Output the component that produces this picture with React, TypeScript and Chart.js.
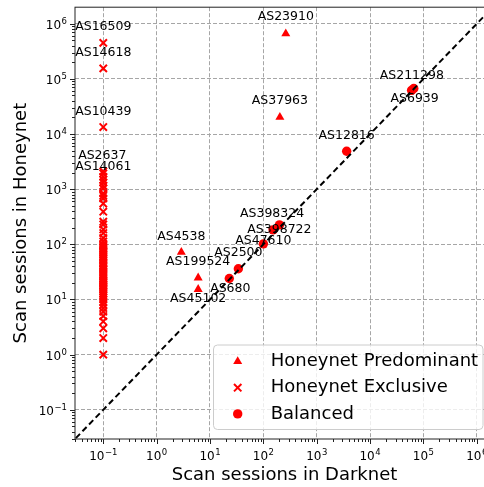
import React, { useEffect, useRef } from 'react';
import { Chart, registerables } from 'chart.js';

Chart.register(...registerables);

// ---------------- data ----------------
const predominantNames = ['AS23910', 'AS37963', 'AS4538', 'AS199524', 'AS45102'];
const predominantDarknet = [263, 204, 2.9, 6, 6];
const predominantHoneynet = [660000, 20300, 72, 24.7, 15.3];

const balancedNames = ['AS680', 'AS2500', 'AS47610', 'AS398324', 'AS398722', 'AS12816', 'AS211298', 'AS6939'];
const balancedDarknet = [23, 34, 100, 152, 200, 3640, 66000, 60000];
const balancedHoneynet = [24, 36, 102, 183, 225, 4880, 67000, 62000];

const exclusiveNames = ['AS16509', 'AS14618', 'AS10439', 'AS2637', 'AS14061'];
const exclusiveHoneynet = [
  450000, 155000, 13400, 2100, 1330, 1930, 1680, 1480, 1150, 1030, 840, 760, 680, 550, 390,
  257, 229, 186, 160, 130, 113, 100, 95, 90, 85, 80, 75, 70, 65, 60, 56, 52, 48, 45, 42, 40,
  37, 35, 32, 30, 28, 26, 24, 22, 21, 20, 19, 18, 17, 16, 15, 14, 13, 12, 11, 10, 9, 8, 7, 6,
  5, 4, 3, 2, 1,
];
// zero darknet sessions are placed at 10^-1
const exclusiveDarknetValue = 0.1;

const legendLabels = ['Honeynet Predominant', 'Honeynet Exclusive', 'Balanced'];
const tickExponents = [-1, 0, 1, 2, 3, 4, 5, 6];
const axisMin = Math.pow(10, -1.53);
const axisMax = Math.pow(10, 6.3);
const diagonalRange = [0.001, 1e8];

const xTitle = 'Scan sessions in Darknet';
const yTitle = 'Scan sessions in Honeynet';

// label placement (pixel offsets of text centre from its point)
const labelOffsets: Record<string, [number, number]> = {
  AS16509: [0, -17],
  AS14618: [0, -17],
  AS10439: [0, -17],
  AS2637: [-1, -17],
  AS14061: [0, -17],
  AS23910: [0, -18],
  AS37963: [0, -18],
  AS4538: [0, -17],
  AS199524: [0, -17],
  AS45102: [0, 8],
  AS680: [1, 9],
  AS2500: [0, -17],
  AS47610: [0, -4],
  AS398324: [-1, -17],
  AS398722: [0, 3],
  AS12816: [0, -17],
  AS211298: [-2, -14],
  AS6939: [3, 7],
};

const FONT = '"DejaVu Sans", sans-serif';
const RED = '#ff0000';

function supText(e: number) {
  return e < 0 ? '\u2212' + String(-e) : String(e);
}

function drawPow(ctx: CanvasRenderingContext2D, e: number, x: number, y: number, align: 'center' | 'right') {
  ctx.textAlign = 'left';
  ctx.textBaseline = 'alphabetic';
  ctx.font = `12px ${FONT}`;
  const w1 = ctx.measureText('10').width;
  ctx.font = `8.5px ${FONT}`;
  const s = supText(e);
  const w2 = ctx.measureText(s).width;
  const w = w1 + w2 + 0.5;
  const start = align === 'center' ? x - w / 2 : x - w;
  ctx.font = `12px ${FONT}`;
  ctx.fillText('10', start, y);
  ctx.font = `8.5px ${FONT}`;
  ctx.fillText(s, start + w1 + 0.5, y - 5);
}

function drawMarker(ctx: CanvasRenderingContext2D, kind: number, x: number, y: number) {
  ctx.save();
  ctx.fillStyle = RED;
  ctx.strokeStyle = RED;
  if (kind === 0) {
    const r = 5.2;
    ctx.beginPath();
    for (let i = 0; i < 3; i++) {
      const a = -Math.PI / 2 + (i * 2 * Math.PI) / 3;
      const px = x + Math.cos(a) * r;
      const py = y + Math.sin(a) * r;
      if (i === 0) ctx.moveTo(px, py);
      else ctx.lineTo(px, py);
    }
    ctx.closePath();
    ctx.fill();
  } else if (kind === 1) {
    const d = 3.7;
    ctx.lineWidth = 2;
    ctx.beginPath();
    ctx.moveTo(x - d, y - d);
    ctx.lineTo(x + d, y + d);
    ctx.moveTo(x - d, y + d);
    ctx.lineTo(x + d, y - d);
    ctx.stroke();
  } else {
    ctx.beginPath();
    ctx.arc(x, y, 4.7, 0, Math.PI * 2);
    ctx.fill();
  }
  ctx.restore();
}

const decorPlugin = {
  id: 'decor',
  afterDatasetsDraw(chart: any) {
    const ctx: CanvasRenderingContext2D = chart.ctx;
    const xs = chart.scales.x;
    const ys = chart.scales.y;
    const a = chart.chartArea;
    ctx.save();

    // annotations
    ctx.fillStyle = '#000';
    ctx.font = `12.5px ${FONT}`;
    ctx.textAlign = 'center';
    ctx.textBaseline = 'alphabetic';
    const ann: { name: string; x: number; y: number }[] = [];
    predominantNames.forEach((n, i) => ann.push({ name: n, x: predominantDarknet[i], y: predominantHoneynet[i] }));
    exclusiveNames.forEach((n, i) => ann.push({ name: n, x: exclusiveDarknetValue, y: exclusiveHoneynet[i] }));
    balancedNames.forEach((n, i) => ann.push({ name: n, x: balancedDarknet[i], y: balancedHoneynet[i] }));
    ann.forEach(({ name, x, y }) => {
      const [dx, dy] = labelOffsets[name] || [0, -17];
      const px = xs.getPixelForValue(x) + dx;
      const py = ys.getPixelForValue(y) + dy;
      ctx.fillText(name, px, py + 4.6);
    });

    // legend
    const lx = 213.5, ly = 345, lw = 269.5, lh = 84.5;
    ctx.beginPath();
    (ctx as any).roundRect(lx, ly, lw, lh, 4);
    ctx.fillStyle = 'rgba(255,255,255,0.8)';
    ctx.fill();
    ctx.strokeStyle = '#cccccc';
    ctx.lineWidth = 1;
    ctx.stroke();
    const rowsBase = [366, 392.3, 418.5];
    legendLabels.forEach((t, i) => {
      drawMarker(ctx, i, 237.7, rowsBase[i] - 4.6);
      ctx.fillStyle = '#000';
      ctx.font = `18px ${FONT}`;
      ctx.textAlign = 'left';
      ctx.textBaseline = 'alphabetic';
      ctx.fillText(t, 270.7, rowsBase[i]);
    });

    // spines
    ctx.strokeStyle = '#222';
    ctx.lineWidth = 1;
    ctx.setLineDash([]);
    ctx.strokeRect(a.left, a.top, a.right - a.left, a.bottom - a.top);

    // ticks
    ctx.beginPath();
    for (let e = -2; e <= 6; e++) {
      for (let m = 1; m <= 9; m++) {
        const v = m * Math.pow(10, e);
        if (v < axisMin || v > axisMax) continue;
        const len = m === 1 ? 5 : 3;
        const px = Math.round(xs.getPixelForValue(v)) + 0.5;
        ctx.moveTo(px, a.bottom);
        ctx.lineTo(px, a.bottom + len);
        const py = Math.round(ys.getPixelForValue(v)) + 0.5;
        ctx.moveTo(a.left, py);
        ctx.lineTo(a.left - len, py);
      }
    }
    ctx.lineWidth = 1;
    ctx.strokeStyle = '#222';
    ctx.stroke();

    // tick labels
    ctx.fillStyle = '#000';
    tickExponents.forEach((e) => {
      const v = Math.pow(10, e);
      drawPow(ctx, e, xs.getPixelForValue(v), a.bottom + 21, 'center');
      drawPow(ctx, e, a.left - 8, ys.getPixelForValue(v) + 5, 'right');
    });

    // axis titles
    ctx.font = `18px ${FONT}`;
    ctx.textAlign = 'center';
    ctx.textBaseline = 'alphabetic';
    ctx.fillText(xTitle, 284.5, 480);
    ctx.save();
    ctx.translate(26.3, (a.top + a.bottom) / 2);
    ctx.rotate(-Math.PI / 2);
    ctx.fillText(yTitle, 0, 0);
    ctx.restore();

    ctx.restore();
  },
};

export default function App() {
  const ref = useRef<HTMLCanvasElement | null>(null);

  useEffect(() => {
    const canvas = ref.current;
    if (!canvas) return;
    const scaleCommon = (isX: boolean) => ({
      type: 'logarithmic' as const,
      min: axisMin,
      max: axisMax,
      afterBuildTicks: (s: any) => {
        s.ticks = tickExponents.map((e) => ({ value: Math.pow(10, e) }));
      },
      afterFit: (s: any) => {
        if (isX) s.height = 0;
        else s.width = 0;
      },
      ticks: { display: false },
      grid: { color: '#a6a6a6', lineWidth: 1, drawTicks: false },
      border: { display: false, dash: [4, 2] },
    });

    const chart = new Chart(canvas, {
      type: 'scatter',
      data: {
        datasets: [
          {
            label: 'diagonal',
            data: diagonalRange.map((v) => ({ x: v, y: v })),
            showLine: true,
            borderColor: '#000',
            borderWidth: 2,
            borderDash: [6, 3.5],
            pointRadius: 0,
            order: 0,
          } as any,
          {
            label: legendLabels[0],
            data: predominantDarknet.map((x, i) => ({ x, y: predominantHoneynet[i] })),
            pointStyle: 'triangle',
            pointRadius: 5.2,
            backgroundColor: RED,
            borderWidth: 0,
            order: 3,
          },
          {
            label: legendLabels[1],
            data: exclusiveHoneynet.map((y) => ({ x: exclusiveDarknetValue, y })),
            pointStyle: 'crossRot',
            pointRadius: 5.2,
            borderColor: RED,
            backgroundColor: RED,
            borderWidth: 2,
            order: 2,
          },
          {
            label: legendLabels[2],
            data: balancedDarknet.map((x, i) => ({ x, y: balancedHoneynet[i] })),
            pointStyle: 'circle',
            pointRadius: 4.7,
            backgroundColor: RED,
            borderWidth: 0,
            order: 1,
          },
        ],
      },
      options: {
        responsive: false,
        animation: false,
        devicePixelRatio: 1,
        layout: { padding: { left: 75, top: 4.5, right: 7, bottom: 48 } },
        plugins: { legend: { display: false }, tooltip: { enabled: false } },
        scales: { x: scaleCommon(true) as any, y: scaleCommon(false) as any },
      },
      plugins: [decorPlugin],
    });
    return () => chart.destroy();
  }, []);

  return (
    <div style={{ position: 'absolute', left: 0, top: 0, width: 484, height: 487, overflow: 'hidden', background: '#fff' }}>
      <canvas ref={ref} width={500} height={487} style={{ width: 500, height: 487, display: 'block' }} />
    </div>
  );
}
